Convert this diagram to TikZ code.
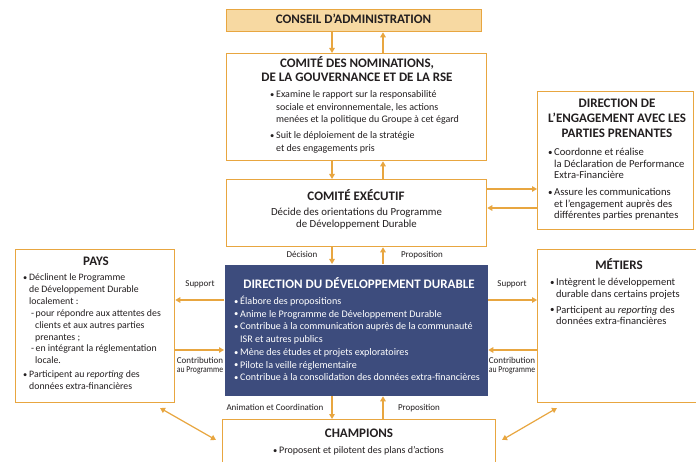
\documentclass[tikz,border=0pt]{standalone}
\usepackage{fontspec}
\usepackage{graphicx}
\setmainfont{Carlito}
\usetikzlibrary{arrows.meta,calc}
\definecolor{orng}{HTML}{E8A640}
\definecolor{tanfill}{HTML}{F7D9A2}
\definecolor{dblue}{HTML}{3D4C7D}
\definecolor{ink}{HTML}{231F20}
\newcommand{\bu}{\makebox[6pt][l]{\raisebox{0.3pt}{\scalebox{0.85}{•}}}}
\newcommand{\ind}{\hspace*{6pt}}
\begin{document}
\begin{tikzpicture}[x=1pt,y=-1pt,
  box/.style={draw=orng, line width=1.3pt, inner sep=0pt, anchor=north west},
  ttl/.style={font=\fontsize{13}{13.5}\selectfont\bfseries, text=ink, inner sep=0pt, align=center, anchor=base},
  txt/.style={font=\fontsize{10}{12.5}\selectfont, text=ink, inner sep=0pt, align=left, anchor=base west},
  lbl/.style={font=\fontsize{9}{9.8}\selectfont, text=ink, inner sep=0pt, align=center, anchor=base},
  arr/.style={draw=orng, line width=1.4pt, -{Triangle[length=5pt,width=5.5pt]}},
  darr/.style={draw=orng, line width=1.2pt, {Triangle[length=5pt,width=5.5pt]}-{Triangle[length=5pt,width=5.5pt]}},
]
\useasboundingbox (0,0) rectangle (696,462);
\fill[white] (0,0) rectangle (696,462);

% boxes
\node[box, fill=tanfill, minimum width=255pt, minimum height=22pt] (conseil) at (226,9) {};
\node[box, minimum width=260pt, minimum height=107pt] (nom) at (226,53) {};
\node[box, minimum width=260pt, minimum height=67pt] (exec) at (226,179) {};
\node[box, minimum width=156pt, minimum height=138pt] (eng) at (537,91) {};
\node[box, draw=none, fill=dblue, minimum width=263pt, minimum height=131pt] (ddd) at (224,264) {};
\node[box, minimum width=159pt, minimum height=153pt] (pays) at (15,249) {};
\node[box, minimum width=165pt, minimum height=153pt] (met) at (537,249) {};
\node[box, minimum width=273pt, minimum height=70pt] (champ) at (222,419) {};

% helper coordinates
\coordinate (xl) at (332,0);
\coordinate (xr) at (383,0);
\coordinate (ya) at (0,189);
\coordinate (yb) at (0,208);
\coordinate (ys) at (0,300);
\coordinate (yc) at (0,350);
\coordinate (pa) at (160,408);
\coordinate (ca) at (216,440);
\coordinate (ma) at (557,408);
\coordinate (cb) at (502,440);

% vertical connectors
\draw[arr] (conseil.south -| xl) -- (nom.north -| xl);
\draw[arr] (nom.north -| xr) -- (conseil.south -| xr);
\draw[arr] (nom.south -| xl) -- (exec.north -| xl);
\draw[arr] (exec.north -| xr) -- (nom.south -| xr);
\draw[arr] (exec.south -| xl) -- (ddd.north -| xl);
\draw[arr] (ddd.north -| xr) -- (exec.south -| xr);
\draw[arr] (ddd.south -| xl) -- (champ.north -| xl);
\draw[arr] (champ.north -| xr) -- (ddd.south -| xr);
% horizontal connectors
\draw[arr] (exec.east |- ya) -- (eng.west |- ya);
\draw[arr] (eng.west |- yb) -- (exec.east |- yb);
\draw[arr] (ddd.west |- ys) -- (pays.east |- ys);
\draw[arr] (pays.east |- yc) -- (ddd.west |- yc);
\draw[arr] (ddd.east |- ys) -- (met.west |- ys);
\draw[arr] (met.west |- yc) -- (ddd.east |- yc);
% diagonals
\draw[darr] (pa) -- (ca);
\draw[darr] (ma) -- (cb);

% texts (multi-line nodes are anchored at the baseline of their last line)
\node[ttl] (tconseil) at (353.5,24) {CONSEIL D’ADMINISTRATION};

\node[ttl] (tnom) at (357,81.5) {COMITÉ DES NOMINATIONS,\\DE LA GOUVERNANCE ET DE LA RSE};
\node[txt] (bnom) at (270,151.5) {\bu Examine le rapport sur la responsabilité\\
\ind sociale et environnementale, les actions\\
\ind menées et la politique du Groupe à cet égard\\[3.5pt]
\bu Suit le déploiement de la stratégie\\
\ind et des engagements pris};

\node[ttl] (texec) at (356,201) {COMITÉ EXÉCUTIF};
\node[txt, font=\fontsize{10.8}{11.8}\selectfont, align=center, anchor=base] (bexec) at (356.5,227.8) {Décide des orientations du Programme\\de Développement Durable};

\node[ttl, font=\fontsize{13}{14.8}\selectfont\bfseries] (teng) at (617,137.6) {DIRECTION DE\\L’ENGAGEMENT AVEC LES\\PARTIES PRENANTES};
\node[txt, font=\fontsize{10.6}{11.7}\selectfont] (beng) at (548,219) {\bu Coordonne et réalise\\
\ind la Déclaration de Performance\\
\ind Extra-Financière\\[5pt]
\bu Assure les communications\\
\ind et l’engagement auprès des\\
\ind différentes parties prenantes};

\node[ttl] (tpays) at (96,265.5) {PAYS};
\node[txt, font=\fontsize{9.8}{11.9}\selectfont] (bpays) at (23,389.6) {\bu Déclinent le Programme\\
\ind de Développement Durable\\
\ind localement :\\
\hspace*{8pt}-\hspace{1.5pt}pour répondre aux attentes des\\
\hspace*{12pt}clients et aux autres parties\\
\hspace*{12pt}prenantes ;\\
\hspace*{8pt}-\hspace{1.5pt}en intégrant la réglementation\\
\hspace*{12pt}locale.\\[2pt]
\bu Participent au \emph{reporting} des\\
\ind données extra-financières};

\node[ttl] (tmet) at (619,270) {MÉTIERS};
\node[txt, font=\fontsize{10.5}{11.5}\selectfont] (bmet) at (550,324.5) {\bu Intègrent le développement\\
\ind durable dans certains projets\\[4.5pt]
\bu Participent au \emph{reporting} des\\
\ind données extra-financières};

\node[ttl, text=white] (tddd) at (359,289) {DIRECTION DU DÉVELOPPEMENT DURABLE};
\node[txt, text=white, font=\fontsize{10.1}{12.7}\selectfont] (bddd) at (234,380.7) {\bu Élabore des propositions\\
\bu Anime le Programme de Développement Durable\\
\bu Contribue à la communication auprès de la communauté\\
\ind ISR et autres publics\\
\bu Mène des études et projets exploratoires\\
\bu Pilote la veille réglementaire\\
\bu Contribue à la consolidation des données extra-financières};

\node[ttl] (tchamp) at (359,437) {CHAMPIONS};
\node[txt, align=center, anchor=base] (bchamp) at (358.5,453.5) {\bu Proposent et pilotent des plans d’actions};

% labels
\node[lbl] (ldec) at (302,258) {Décision};
\node[lbl] (lprop1) at (422,258) {Proposition};
\node[lbl] (lsupl) at (200,287) {Support};
\node[lbl] (lcontl) at (200,372.8) {Contribution\\\scalebox{0.86}[1]{au Programme}};
\node[lbl] (lsupr) at (512,287) {Support};
\node[lbl] (lcontr) at (512,372.8) {Contribution\\\scalebox{0.86}[1]{au Programme}};
\node[lbl] (lanim) at (275,410) {Animation et Coordination};
\node[lbl] (lprop2) at (419,410) {Proposition};
\end{tikzpicture}
\end{document}
